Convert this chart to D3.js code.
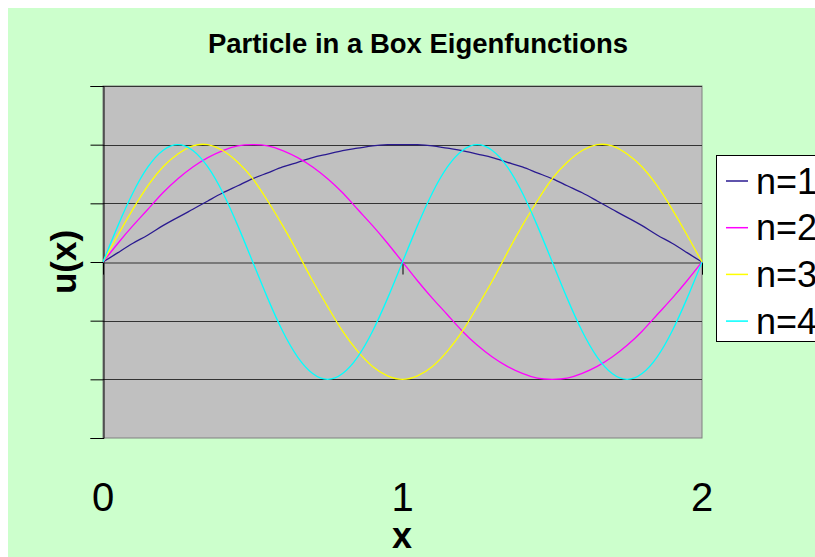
<html>
<head>
<style>
  body { margin: 0; background: #fff; }
  text { font-family: "Liberation Sans", Arial, sans-serif; }
</style>
</head>
<body>
<svg id="chart" width="815" height="557"></svg>
<script src="https://d3js.org/d3.v7.min.js"></script>
<script>
// x positions sampled at 0.05 steps
const xs = d3.range(41).map(i => +(i * 0.05).toFixed(2))

const n1 = [0, .08, .16, .23, .31, .38, .45, .52, .59, .65, .71, .76, .81, .85, .89, .92, .95, .97, .99, 1, 1,
            1, .99, .97, .95, .92, .89, .85, .81, .76, .71, .65, .59, .52, .45, .38, .31, .23, .16, .08, 0]
const n2 = [0, .16, .31, .45, .59, .71, .81, .89, .95, .99, 1, .99, .95, .89, .81, .71, .59, .45, .31, .16, 0,
            -.16, -.31, -.45, -.59, -.71, -.81, -.89, -.95, -.99, -1, -.99, -.95, -.89, -.81, -.71, -.59, -.45, -.31, -.16, 0]
const n3 = [0, .23, .45, .65, .81, .92, .99, 1, .95, .85, .71, .52, .31, .08, -.16, -.38, -.59, -.76, -.89, -.97, -1,
            -.97, -.89, -.76, -.59, -.38, -.16, .08, .31, .52, .71, .85, .95, 1, .99, .92, .81, .65, .45, .23, 0]
const n4 = [0, .31, .59, .81, .95, 1, .95, .81, .59, .31, 0, -.31, -.59, -.81, -.95, -1, -.95, -.81, -.59, -.31, 0,
            .31, .59, .81, .95, 1, .95, .81, .59, .31, 0, -.31, -.59, -.81, -.95, -1, -.95, -.81, -.59, -.31, 0]

const seriesNames = ["n=1", "n=2", "n=3", "n=4"]
const seriesValues = [n1, n2, n3, n4]
const colors = ["#2a1a90", "#ff00ff", "#ffff00", "#00ffff"]

const xTicks = [0, 1, 2]
const yTicks = [-1.5, -1, -0.5, 0, 0.5, 1, 1.5]

const svg = d3.select("#chart")

// green chart area
svg.append("rect").attr("x", 8).attr("y", 8).attr("width", 807).attr("height", 549)
    .attr("fill", "#ccffcc")

const plotLeft = 103, plotRight = 702, plotTop = 86, plotBottom = 438

const x = d3.scaleLinear().domain([0, 2]).range([plotLeft, plotRight])
const y = d3.scaleLinear().domain([-1.5, 1.5]).range([plotBottom, plotTop])

// plot area
svg.append("rect").attr("x", plotLeft).attr("y", plotTop)
    .attr("width", plotRight - plotLeft).attr("height", plotBottom - plotTop)
    .attr("fill", "#c0c0c0").attr("stroke", "#808080").attr("stroke-width", 1)

// gridlines
svg.append("g").selectAll("line")
    .data(yTicks.filter(d => d !== 0 && d !== -1.5))
    .enter().append("line")
    .attr("x1", plotLeft).attr("x2", plotRight)
    .attr("y1", d => Math.round(y(d)) + 0.5).attr("y2", d => Math.round(y(d)) + 0.5)
    .attr("stroke", "#333").attr("stroke-width", 1)

// y axis
const yAxis = svg.append("g")
    .attr("transform", `translate(${plotLeft + 0.5},0)`)
    .call(d3.axisLeft(y).tickValues(yTicks).tickSize(13).tickFormat(""))
yAxis.select(".domain").attr("stroke", "#000")
yAxis.selectAll(".tick line").attr("stroke", "#000")

// x axis along zero
const xAxis = svg.append("g")
    .attr("transform", `translate(0,${Math.round(y(0)) + 0.5})`)
    .call(d3.axisBottom(x).tickValues(xTicks).tickSize(12).tickFormat(""))
xAxis.select(".domain").attr("stroke", "#333")
xAxis.selectAll(".tick line").attr("stroke", "#000")

// x tick labels (low position)
svg.append("g").selectAll("text")
    .data(xTicks).enter().append("text")
    .attr("x", d => x(d)).attr("y", 511)
    .attr("text-anchor", "middle")
    .attr("font-size", 40)
    .text(d => d)

// lines
const line = d3.line()
    .x((d, i) => x(xs[i]))
    .y(d => y(d))
    .curve(d3.curveNatural)

svg.append("g").selectAll("path")
    .data(seriesValues).enter().append("path")
    .attr("d", line)
    .attr("fill", "none")
    .attr("stroke", (d, i) => colors[i])
    .attr("stroke-width", 1.3)

// title
svg.append("text").attr("x", 418).attr("y", 53)
    .attr("text-anchor", "middle")
    .attr("font-size", 27.5).attr("font-weight", "bold")
    .text("Particle in a Box Eigenfunctions")

// axis titles
svg.append("text").attr("x", 402).attr("y", 548)
    .attr("text-anchor", "middle").attr("font-size", 36).attr("font-weight", "bold")
    .text("x")
svg.append("text")
    .attr("transform", "translate(76,262) rotate(-90)")
    .attr("text-anchor", "middle").attr("font-size", 35).attr("font-weight", "bold")
    .text("u(x)")

// legend
const legend = svg.append("g")
legend.append("rect").attr("x", 716.5).attr("y", 155.5)
    .attr("width", 120).attr("height", 186)
    .attr("fill", "#fff").attr("stroke", "#000").attr("stroke-width", 1)

const item = legend.selectAll(".item")
    .data(seriesNames).enter().append("g")
    .attr("transform", (d, i) => `translate(0,${181 + i * 46.7})`)
item.append("line")
    .attr("x1", 726).attr("x2", 748).attr("y1", 0).attr("y2", 0)
    .attr("stroke", (d, i) => colors[i]).attr("stroke-width", 1.5)
item.append("text")
    .attr("x", 756).attr("y", 12.5)
    .attr("font-size", 36)
    .text(d => d)
</script>
</body>
</html>
